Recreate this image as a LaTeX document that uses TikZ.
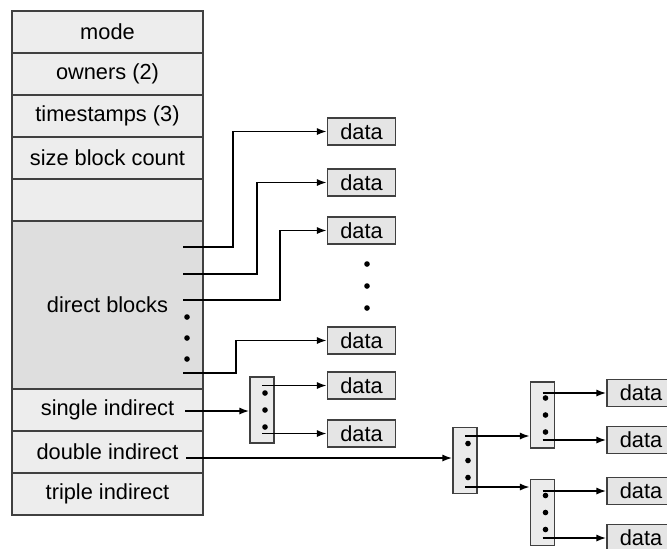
\documentclass[tikz,border=0pt]{standalone}
\usepackage{fontspec}
\setmainfont{Liberation Sans}
\usetikzlibrary{positioning,arrows.meta}
\tikzset{>={Latex[length=5pt,width=3.6pt]}}
\tikzset{
  cell/.style={draw=black!75, fill=black!7, line width=0.7pt, minimum width=95.5pt,
    minimum height=21pt, inner sep=0pt, outer sep=0pt, font=\fontsize{10.9}{13}\selectfont},
  datablk/.style={draw=black!75, fill=black!10, line width=0.7pt, minimum width=34pt,
    minimum height=13.5pt, inner sep=0pt, font=\fontsize{10.9}{13}\selectfont},
  idxblk/.style={draw=black!75, fill=black!8, line width=0.7pt, minimum width=12pt,
    minimum height=33pt, inner sep=0pt},
  ptr/.style={->, line width=0.9pt}
}

\begin{document}
\begin{tikzpicture}[x=0.5pt, y=-0.5pt]
  \useasboundingbox (0,0) rectangle (667,548);
  \clip (0,0) rectangle (667,548);
  % the inode
  \node[cell] (mode) at (107.5,32) {mode};
  \node[cell, below=0pt of mode] (owners) {owners (2)};
  \node[cell, below=0pt of owners] (stamps) {timestamps (3)};
  \node[cell, below=0pt of stamps] (size) {size block count};
  \node[cell, below=0pt of size] (blank) {};
  \node[cell, below=0pt of blank, minimum height=84pt, fill=black!13] (direct) {direct blocks};
  \node[cell, below=0pt of direct] (single) {single indirect};
  \node[cell, below=0pt of single] (double) {double indirect};
  \node[cell, below=0pt of double] (triple) {triple indirect};
  % pointer starts
  \coordinate (p1) at (183,247);
  \coordinate (p2) at (183,274);
  \coordinate (p3) at (183,300);
  \coordinate (p4) at (183,373);
  \coordinate (ps) at (185,411);
  \coordinate (pd) at (186,458);
  \foreach \y in {317,338,359} \fill (187,\y) circle (1.4pt);
  % data blocks
  \node[datablk] (d1) at (361.5,131.5) {data};
  \node[datablk] (d2) at (361.5,182.5) {data};
  \node[datablk] (d3) at (361.5,230.5) {data};
  \node[datablk] (d4) at (361.5,340.5) {data};
  \node[datablk] (d5) at (361.5,385.5) {data};
  \node[datablk] (d6) at (361.5,433.5) {data};
  \foreach \y in {264,286,308} \fill (367,\y) circle (1.4pt);
  \node[datablk] (r1) at (641,393) {data};
  \node[datablk] (r2) at (641,440) {data};
  \node[datablk] (r3) at (641,491) {data};
  \node[datablk] (r4) at (641,538) {data};
  % index blocks
  \node[idxblk] (sgl) at (262,410) {};
  \node[idxblk] (dbl) at (465,460.5) {};
  \node[idxblk] (dbA) at (542.5,415) {};
  \node[idxblk] (dbB) at (542.5,512.5) {};
  \foreach \b in {sgl,dbl,dbA,dbB}
    \foreach \dy in {-17,0,17}
      \fill ([xshift=1.5pt, yshift=\dy*0.5pt]\b.center) circle (1.4pt);
  \coordinate (q1) at (465,436);
  \coordinate (q2) at (465,487);
  % direct pointers
  \draw[ptr] (p1) -- ++(50,0) |- (d1.west);
  \draw[ptr] (p2) -- ++(74,0) |- (d2.west);
  \draw[ptr] (p3) -- ++(97,0) |- (d3.west);
  \draw[ptr] (p4) -- ++(53,0) |- (d4.west);
  % indirect pointers
  \draw[ptr] (ps) -- (ps -| sgl.west);
  \draw[ptr] (sgl.center |- d5) -- (d5.west);
  \draw[ptr] (sgl.center |- d6) -- (d6.west);
  \draw[ptr] (pd) -- (pd -| dbl.west);
  \draw[ptr] (q1) -- (q1 -| dbA.west);
  \draw[ptr] (q2) -- (q2 -| dbB.west);
  \draw[ptr] (dbA.center |- r1) -- (r1.west);
  \draw[ptr] (dbA.center |- r2) -- (r2.west);
  \draw[ptr] (dbB.center |- r3) -- (r3.west);
  \draw[ptr] (dbB.center |- r4) -- (r4.west);
\end{tikzpicture}
\end{document}
